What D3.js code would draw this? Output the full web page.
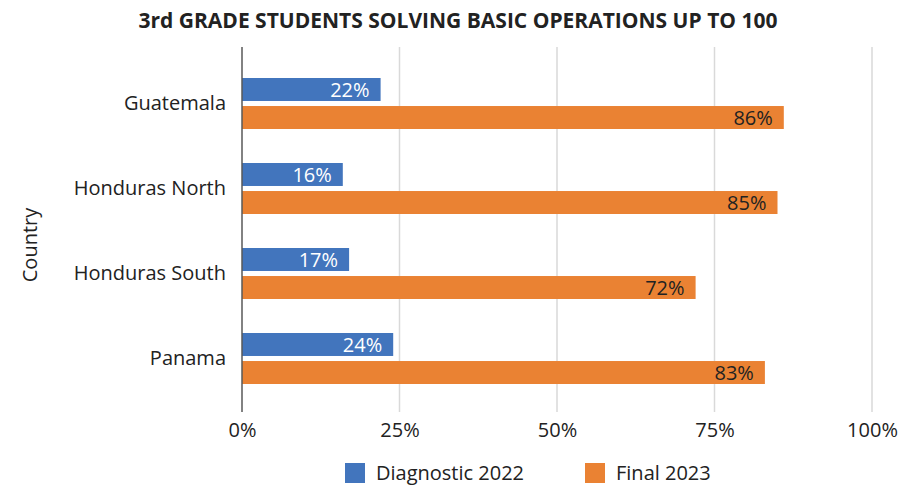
<!DOCTYPE html>
<html>
<head>
<meta charset="utf-8">
<script src="https://cdn.jsdelivr.net/npm/d3@7"></script>
<style>
  body { margin: 0; background: #fff; }
  svg { font-family: "Open Sans", "Noto Sans", sans-serif; }
</style>
</head>
<body>
<svg id="chart"></svg>
<script>
const countries = ['Guatemala', 'Honduras North', 'Honduras South', 'Panama'];
const seriesNames = ['Diagnostic 2022', 'Final 2023'];
const diagnostic2022 = [22, 16, 17, 24];
const final2023 = [86, 85, 72, 83];
const xTicks = [0, 25, 50, 75, 100];
const colors = ['#4275bd', '#ea8233'];

const width = 918, height = 486;
const svg = d3.select('#chart').attr('width', width).attr('height', height);

const data = countries.map((c, i) => ({
    country: c,
    values: [diagnostic2022[i], final2023[i]]
}));

const x = d3.scaleLinear().domain([0, 100]).range([242, 872]);
const y = d3.scaleBand().domain(countries).range([61, 401]).paddingInner(0.4).paddingOuter(0.2);
const ySub = d3.scaleBand().domain([0, 1]).range([0, y.bandwidth()]).paddingInner(0.18);

// gridlines
svg.append('g')
    .selectAll('line')
    .data(xTicks.filter(t => t > 0))
    .join('line')
    .attr('x1', d => x(d)).attr('x2', d => x(d))
    .attr('y1', 47).attr('y2', 412)
    .attr('stroke', '#d9d9d9')
    .attr('stroke-width', 1.5);

// x tick labels
const xAxis = d3.axisBottom(x).tickValues(xTicks).tickFormat(d => d + '%').tickSize(0).tickPadding(0);
const xg = svg.append('g').attr('transform', 'translate(0,423)').call(xAxis);
xg.select('.domain').remove();
xg.selectAll('text')
    .attr('font-size', '20px')
    .attr('fill', '#222')
    .attr('font-family', '"Open Sans", "Noto Sans", sans-serif');

// bars
const groups = svg.append('g')
    .selectAll('g')
    .data(data)
    .join('g')
    .attr('transform', d => `translate(0,${y(d.country)})`);

groups.selectAll('rect')
    .data(d => d.values)
    .join('rect')
    .attr('x', x(0))
    .attr('y', (d, i) => ySub(i))
    .attr('width', d => x(d) - x(0))
    .attr('height', ySub.bandwidth())
    .attr('fill', (d, i) => colors[i]);

groups.selectAll('text.val')
    .data(d => d.values)
    .join('text')
    .attr('class', 'val')
    .attr('x', d => x(d) - 11)
    .attr('y', (d, i) => ySub(i) + ySub.bandwidth() / 2)
    .attr('dy', '0.36em')
    .attr('text-anchor', 'end')
    .attr('font-size', '20px')
    .attr('fill', (d, i) => i === 0 ? '#fff' : '#222')
    .text(d => d + '%');

// y axis
const yAxis = d3.axisLeft(y).tickSize(0).tickPadding(16);
const yg = svg.append('g').attr('transform', `translate(${x(0)},0)`).call(yAxis);
yg.select('.domain').remove();
yg.selectAll('text')
    .attr('font-size', '20px')
    .attr('fill', '#222')
    .attr('font-family', '"Open Sans", "Noto Sans", sans-serif');

svg.append('line')
    .attr('x1', x(0)).attr('x2', x(0))
    .attr('y1', 47).attr('y2', 412)
    .attr('stroke', '#595959')
    .attr('stroke-width', 1.5);

// axis title
svg.append('text')
    .attr('transform', 'translate(37,245) rotate(-90)')
    .attr('text-anchor', 'middle')
    .attr('font-size', '20px')
    .attr('fill', '#222')
    .text('Country');

// title
svg.append('text')
    .attr('x', 458)
    .attr('y', 28)
    .attr('text-anchor', 'middle')
    .attr('font-size', '21px')
    .attr('font-weight', 'bold')
    .attr('fill', '#222')
    .text('3rd GRADE STUDENTS SOLVING BASIC OPERATIONS UP TO 100');

// legend
const legendX = [345, 585];
const legend = svg.append('g')
    .selectAll('g')
    .data(seriesNames)
    .join('g')
    .attr('transform', (d, i) => `translate(${legendX[i]},463)`);
legend.append('rect')
    .attr('width', 20).attr('height', 20)
    .attr('fill', (d, i) => colors[i]);
legend.append('text')
    .attr('x', 31)
    .attr('y', 10)
    .attr('dy', '0.36em')
    .attr('font-size', '20px')
    .attr('fill', '#222')
    .text(d => d);
</script>
</body>
</html>
